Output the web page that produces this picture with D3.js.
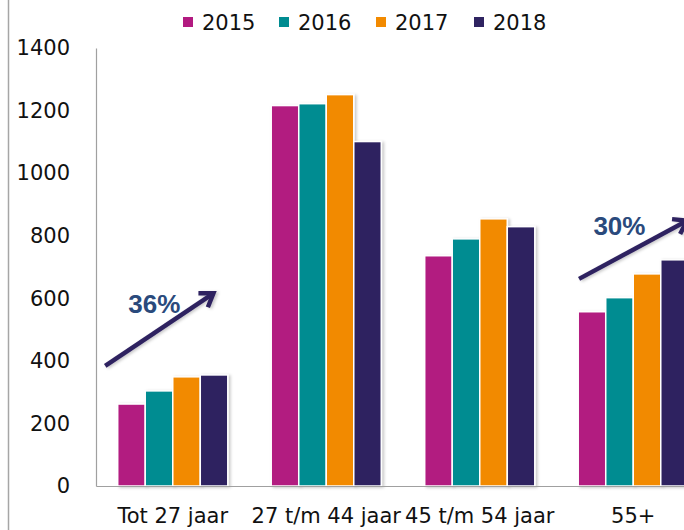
<!DOCTYPE html>
<html>
<head>
<meta charset="utf-8">
<script src="https://cdn.jsdelivr.net/npm/d3@7"></script>
<style>
  body { margin: 0; background: #fff; }
  text { font-family: "DejaVu Sans", sans-serif; }
</style>
</head>
<body>
<div id="chart"></div>
<script>
// data
var categories = ["Tot 27 jaar", "27 t/m 44 jaar", "45 t/m 54 jaar", "55+"];
var years = ["2015", "2016", "2017", "2018"];
var values2015 = [262, 1216, 736, 557];
var values2016 = [304, 1222, 790, 602];
var values2017 = [349, 1251, 854, 678];
var values2018 = [355, 1101, 829, 723];
var yTicks = [0, 200, 400, 600, 800, 1000, 1200, 1400];
// pijlen: categorie + positie in de band (0..1) + waarde
var arrows = [
  { cat: "Tot 27 jaar", from: [0.06, 384], to: [0.765, 616], label: "36%", labelPos: [0.38, 554] },
  { cat: "55+", from: [0.147, 662], to: [0.85, 848], label: "30%", labelPos: [0.41, 803] }
];

var colors = ["#b21a80", "#008c91", "#f28a00", "#2f2461"];
var series = [values2015, values2016, values2017, values2018];

var W = 684, H = 530;
var plotLeft = 96, plotRight = 710, plotTop = 48, plotBottom = 486;

var svg = d3.select("#chart").append("svg")
  .attr("width", W).attr("height", H);

// schaduw onder de staven
var filter = svg.append("defs").append("filter")
  .attr("id", "shadow").attr("x", "-20%").attr("y", "-5%")
  .attr("width", "150%").attr("height", "120%");
filter.append("feDropShadow")
  .attr("dx", 2).attr("dy", 1).attr("stdDeviation", 1.5)
  .attr("flood-color", "#000").attr("flood-opacity", 0.22);

// rand links
svg.append("line")
  .attr("x1", 8.5).attr("x2", 8.5).attr("y1", 0).attr("y2", H)
  .attr("stroke", "#a6a6a6").attr("stroke-width", 1.5);

var x0 = d3.scaleBand().domain(categories).range([plotLeft, plotRight])
  .paddingInner(0.283).paddingOuter(0.1415);
var x1 = d3.scaleBand().domain(years).range([0, x0.bandwidth()]);
var y = d3.scaleLinear().domain([0, 1400]).range([plotBottom, plotTop]);

// staven
var groups = svg.append("g").selectAll("g")
  .data(categories).join("g")
  .attr("transform", function (d) { return "translate(" + x0(d) + ",0)"; });

groups.selectAll("rect")
  .data(function (d, i) {
    return years.map(function (yr, j) { return { year: yr, value: series[j][i], color: colors[j] }; });
  })
  .join("rect")
  .attr("x", function (d) { return x1(d.year); })
  .attr("width", x1.bandwidth())
  .attr("y", function (d) { return y(d.value); })
  .attr("height", function (d) { return plotBottom - y(d.value); })
  .attr("fill", function (d) { return d.color; })
  .attr("stroke", "#fff")
  .attr("stroke-width", 1.5)
  .attr("filter", "url(#shadow)");

// y-as
var yAxis = svg.append("g")
  .attr("transform", "translate(" + plotLeft + ",0)")
  .call(d3.axisLeft(y).tickValues(yTicks).tickSize(0).tickPadding(26).tickFormat(d3.format("d")));
yAxis.select(".domain").attr("stroke", "#a0a0a0").attr("stroke-width", 1.2);
yAxis.selectAll("text").style("font-size", "21px").attr("fill", "#111")
  .style("font-family", "DejaVu Sans, sans-serif");

// x-as
var xAxis = svg.append("g")
  .attr("transform", "translate(0," + plotBottom + ")")
  .call(d3.axisBottom(x0).tickSize(0).tickPadding(22));
xAxis.select(".domain").attr("stroke", "#a0a0a0").attr("stroke-width", 1.2);
xAxis.selectAll("text").style("font-size", "21px").attr("fill", "#111")
  .style("font-family", "DejaVu Sans, sans-serif");

// legenda
var legendX = [183, 279, 376, 474];
var legend = svg.append("g").selectAll("g")
  .data(years).join("g")
  .attr("transform", function (d, i) { return "translate(" + legendX[i] + ",17)"; });
legend.append("rect")
  .attr("width", 10).attr("height", 10)
  .attr("fill", function (d, i) { return colors[i]; });
legend.append("text")
  .attr("x", 19).attr("y", 13)
  .style("font-size", "21px").attr("fill", "#111")
  .text(function (d) { return d; });

// pijlen met percentages
function px(cat, f) { return x0(cat) - x0.step() * x0.paddingInner() / 2 + f * x0.step(); }

arrows.forEach(function (a) {
  var xa = px(a.cat, a.from[0]), ya = y(a.from[1]);
  var xb = px(a.cat, a.to[0]), yb = y(a.to[1]);
  var ang = Math.atan2(yb - ya, xb - xa);
  var hl = 15, spread = 0.6;
  var g = svg.append("g").attr("filter", "url(#shadow)")
    .attr("stroke", "#2f2461").attr("stroke-width", 4.5)
    .attr("stroke-linecap", "butt").attr("fill", "none");
  g.append("line").attr("x1", xa).attr("y1", ya).attr("x2", xb).attr("y2", yb);
  g.append("path")
    .attr("stroke-linejoin", "miter")
    .attr("d", "M" + (xb - hl * Math.cos(ang - spread)) + "," + (yb - hl * Math.sin(ang - spread)) +
      "L" + xb + "," + yb +
      "L" + (xb - hl * Math.cos(ang + spread)) + "," + (yb - hl * Math.sin(ang + spread)));
  svg.append("text")
    .attr("x", px(a.cat, a.labelPos[0])).attr("y", y(a.labelPos[1]))
    .attr("text-anchor", "middle")
    .style("font-family", "Liberation Sans, Arial, sans-serif")
    .style("font-size", "26px").style("font-weight", "bold")
    .attr("fill", "#2a4a7c")
    .text(a.label);
});
</script>
</body>
</html>
